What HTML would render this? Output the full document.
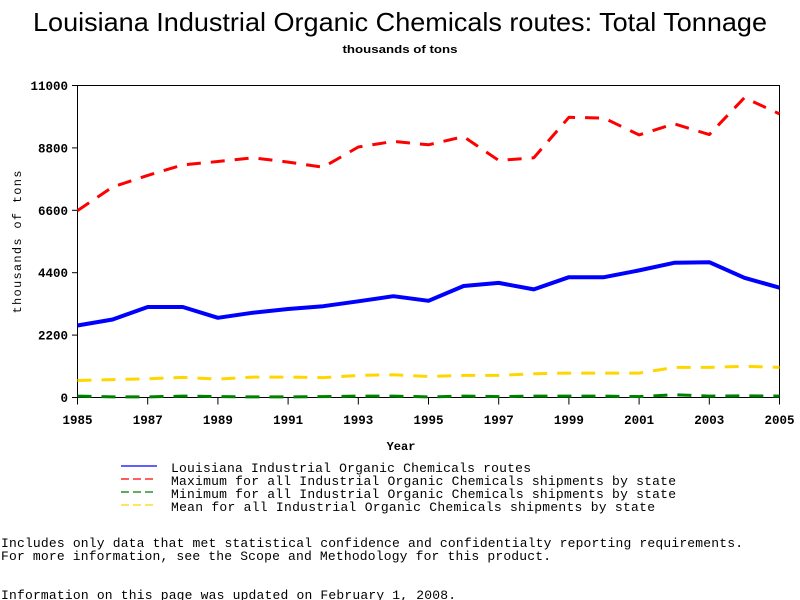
<!DOCTYPE html>
<html><head><meta charset="utf-8"><style>
html,body{margin:0;padding:0;background:#fff;width:800px;height:600px;overflow:hidden}
svg text{font-family:"Liberation Mono",monospace}
</style></head><body>
<svg id="chart" width="800" height="600" xmlns="http://www.w3.org/2000/svg">
<text x="400" y="31" text-anchor="middle" style="font-family:'Liberation Sans',sans-serif" font-size="26" textLength="734" lengthAdjust="spacingAndGlyphs">Louisiana Industrial Organic Chemicals routes: Total Tonnage</text>
<text x="400" y="53" text-anchor="middle" style="font-family:'Liberation Sans',sans-serif" font-size="11" font-weight="bold" textLength="115" lengthAdjust="spacingAndGlyphs">thousands of tons</text>
<rect x="77.5" y="85.5" width="702" height="312" fill="none" stroke="#000" stroke-width="1"/>
<g id="yaxis"></g>
<g id="xaxis"></g>
<g id="series"></g>
<text transform="translate(21,242) rotate(-90)" text-anchor="middle" font-size="12" textLength="143" lengthAdjust="spacing">thousands of tons</text>
<text x="401" y="450" text-anchor="middle" font-size="12" font-weight="bold">Year</text>
<g>
<line x1="121" y1="466" x2="157" y2="466" stroke="#0000ff" stroke-width="1.3"/>
<text x="171" y="472" font-size="13" textLength="360" lengthAdjust="spacing">Louisiana Industrial Organic Chemicals routes</text>
<line x1="121" y1="479" x2="157" y2="479" stroke="#ff0000" stroke-width="1.3" stroke-dasharray="8,4"/>
<text x="171" y="485" font-size="13" textLength="505" lengthAdjust="spacing">Maximum for all Industrial Organic Chemicals shipments by state</text>
<line x1="121" y1="492" x2="157" y2="492" stroke="#008000" stroke-width="1.3" stroke-dasharray="8,4"/>
<text x="171" y="498" font-size="13" textLength="505" lengthAdjust="spacing">Minimum for all Industrial Organic Chemicals shipments by state</text>
<line x1="121" y1="505" x2="157" y2="505" stroke="#ffd700" stroke-width="1.3" stroke-dasharray="8,4"/>
<text x="171" y="511" font-size="13" textLength="484" lengthAdjust="spacing">Mean for all Industrial Organic Chemicals shipments by state</text>
</g>
<text x="1" y="547" font-size="13" textLength="742" lengthAdjust="spacing">Includes only data that met statistical confidence and confidentialty reporting requirements.</text>
<text x="1" y="560" font-size="13" textLength="550" lengthAdjust="spacing">For more information, see the Scope and Methodology for this product.</text>
<text x="1" y="599" font-size="13" textLength="455" lengthAdjust="spacing">Information on this page was updated on February 1, 2008.</text>
</svg>
<script>
const years = [1985,1986,1987,1988,1989,1990,1991,1992,1993,1994,1995,1996,1997,1998,1999,2000,2001,2002,2003,2004,2005];
const louisiana = [2540,2750,3190,3190,2810,2990,3120,3220,3390,3570,3410,3930,4040,3810,4240,4240,4480,4750,4770,4220,3870];
const maximum = [6590,7420,7830,8200,8320,8450,8300,8120,8830,9030,8910,9200,8360,8450,9880,9850,9260,9650,9270,10570,10000];
const minimum = [50,20,20,50,30,20,20,30,50,50,20,50,30,50,50,50,30,100,50,60,50];
const mean = [600,630,660,710,650,720,720,700,780,800,740,780,780,840,860,860,860,1060,1060,1100,1060];
const yTicks = [0,2200,4400,6600,8800,11000];
const xTickLabels = [1985,1987,1989,1991,1993,1995,1997,1999,2001,2003,2005];

const NS = "http://www.w3.org/2000/svg";
const X0=77.5, X1=779.5, Y0=397.5, Y1=85.5;
const xs = y => X0 + (y - 1985) / (2005 - 1985) * (X1 - X0);
const ys = v => Y0 - v / 11000 * (Y0 - Y1);
function mk(tag, attrs, parent){const e=document.createElementNS(NS,tag);for(const k in attrs)e.setAttribute(k,attrs[k]);parent.appendChild(e);return e;}

const ya=document.getElementById('yaxis');
yTicks.forEach(t=>{
  const l=mk('line',{x1:72,x2:X0,y1:ys(t),y2:ys(t),stroke:'#000'},ya);
  
  
  const tx=mk('text',{x:68,y:ys(t)+4.5,'text-anchor':'end','font-size':12.5,'font-weight':'bold'},ya);
  
  
  tx.textContent=t;
});
const xa=document.getElementById('xaxis');
years.forEach(y=>{
  const major = xTickLabels.includes(y);
  const l=mk('line',{x1:xs(y),x2:xs(y),y1:Y0,y2:Y0+(major?7:0),stroke:'#000'},xa);
  
  
});
xTickLabels.forEach(y=>{
  const tx=mk('text',{x:xs(y),y:424,'text-anchor':'middle','font-size':12.5,'font-weight':'bold'},xa);
  
  
  tx.textContent=y;
});
const sg=document.getElementById('series');
function line(data,color,w,dash,name){
  const pts=data.map((v,i)=>xs(years[i]).toFixed(1)+','+ys(v).toFixed(1)).join(' ');
  const p=mk('polyline',{points:pts,fill:'none',stroke:color,'stroke-width':w,'stroke-linejoin':'round'},sg);
  if(dash)p.setAttribute('stroke-dasharray',dash);
  
  
}
line(minimum,'#008000',3,'14,10','series-minimum');
line(mean,'#ffd700',3,'14,10','series-mean');
line(maximum,'#ff0000',3,'14,10','series-maximum');
line(louisiana,'#0000ff',4,null,'series-louisiana');
</script>
</body></html>
